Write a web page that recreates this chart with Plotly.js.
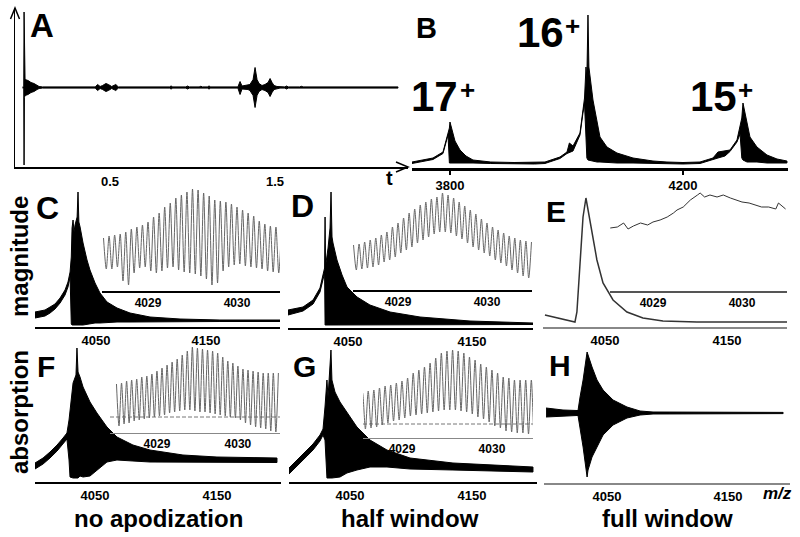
<!DOCTYPE html>
<html><head><meta charset="utf-8">
<script src="https://cdn.plot.ly/plotly-3.0.1.min.js"></script>
<style>html,body{margin:0;padding:0;background:#fff}#chart{width:800px;height:537px}</style>
</head><body><div id="chart"></div>
<script>
// ---------- Panel A: transient (time t, envelope amplitude, arb. units) ----------
const tA  = [-0.03,-0.023,-0.021,-0.019,-0.015,0.003,0.021,0.039,0.058,0.07,0.09,0.41,0.425,0.44,0.455,0.475,0.49,0.51,0.535,0.55,0.86,0.87,0.88,0.96,0.97,0.98,1.04,1.05,1.06,1.09,1.10,1.11,1.275,1.288,1.30,1.318,1.336,1.348,1.367,1.379,1.391,1.403,1.421,1.439,1.458,1.470,1.482,1.494,1.512,1.53,1.56,1.57,1.58,1.65,1.66,1.67,1.76,1.77,1.78,1.84,1.85,1.86,1.94,1.95,1.96,2.245];
const upA = [0.6,0.6,75.5,10,8,7,5,4,2,1,0.6,0.6,3,1,2,4,3,1,3,0.6,0.6,1.5,0.6,0.6,1.5,0.6,0.6,1.2,0.6,0.6,1.5,0.6,0.6,6,1.5,2,2,3,8,20,8,4,2,3,5,9,5,2,1,0.6,0.6,1.5,0.6,0.6,1.2,0.6,0.6,1.2,0.6,0.6,1,0.6,0.6,1,0.6,0.6];
const loA = [-0.6,-0.6,-77.5,-10,-8,-7,-5,-4,-2,-1,-0.6,-0.6,-3,-1,-2,-4,-3,-1,-3,-0.6,-0.6,-1.5,-0.6,-0.6,-1.5,-0.6,-0.6,-1.2,-0.6,-0.6,-1.5,-0.6,-0.6,-7,-1.5,-2,-2,-3,-8,-20,-8,-4,-2,-3,-5,-9,-5,-2,-1,-0.6,-0.6,-1.5,-0.6,-0.6,-1.2,-0.6,-0.6,-1.2,-0.6,-0.6,-1,-0.6,-0.6,-1,-0.6,-0.6];
const ticksA = [0.5, 1.5];

// ---------- Panel B: broadband spectrum (m/z, upper / lower envelope) ----------
const mzB = [3734.8,3770.8,3788.0,3796.6,3799.0,3800.0,3803.4,3808.6,3817.2,3827.5,3839.5,3870.0,3910.0,3945.0,3963.1,3988.8,4000.9,4005.0,4011.2,4023.2,4028.3,4031.0,4033.5,4035.0,4036.9,4038.5,4045.5,4052.4,4057.5,4069.5,4086.7,4114.2,4148.5,4172.5,4200.0,4229.2,4251.5,4260.1,4272.1,4280.7,4292.7,4298.0,4301.0,4303.0,4309.9,4315.0,4327.0,4344.2,4361.4,4378.5];
const upB = [6,10,16,35,40,46,38,27,18,12,8,6,5.5,5.5,6,11,16,25,22,35,58,70,101,90,153,101,68,45,31,21,15,10,7,6,5.5,6,10,16,17,18,28,41,50,65,45,31,21,13,9,7];
const loB = [4.5,8.5,14.5,33,5,5,5,5,5,5,5,4.5,4,4,4.5,9.5,14.5,15,17,33,55,64,30,10,8,8,7,6,6,6,5,5,5,4.5,4,4.5,8.5,10,12,16.5,26,34,10,8,6,6,6,5,5,5];
const ticksB = [3800, 4200];
const chargeLabels = ['17', '16', '15'];
const chargeSign = '+';

// ---------- Panels C-H: 16+ charge state, main spectra ----------
const ticksMain = [4050, 4150];
const mzC = [3994.5,4003.6,4008.2,4012.7,4017.3,4021.8,4024.5,4026.4,4027.5,4028.2,4029.1,4030.0,4030.9,4032.8,4033.6,4034.4,4035.5,4038.2,4041.8,4044.5,4049.1,4053.6,4060.0,4069.1,4080.9,4099.1,4126.4,4162.7,4217.3];
const upC = [15,17,20,23,29,37,45,55,70,99,107,95,102,110,135,105,100,84,67,57,44,34,25,19,14,10,8,7,7];
const loC = [9,11,14,18,24,32,40,50,3,2,2,2,2,2,2,2,2,2,3,3,4,4,4,5,5,5,5,5.5,5.5];

const mzD = [4001.6,4013.7,4021.8,4027.4,4029.8,4031.1,4031.5,4031.9,4033.9,4035.5,4036.3,4037.1,4037.9,4041.1,4045.2,4049.2,4057.3,4067.7,4083.9,4108.1,4148.4,4199.2];
const upD = [18,21,28,40,53,60,111,62,80,100,136,91,85,68,53,41,31,23,16,11,7,5];
const loD = [13,17,24,36,49,55,3,3,3,3,3,3,3,3,3,3,3,3,3,3,3.5,3.5];

const mzE  = [4000.8,4015.6,4025.4,4027.0,4029.5,4032.0,4034.4,4036.1,4039.3,4043.4,4048.4,4056.6,4068.0,4081.1,4097.5,4125.4,4199.2];
const intE = [12,8,5,15,67,110,129,117,94,67,44,27,15,9,6,5,5];

const mzF = [4000.8,4007.4,4013.1,4018.9,4023.8,4027.0,4028.7,4029.5,4032.0,4034.4,4035.2,4036.1,4037.7,4040.2,4045.9,4051.6,4059.8,4068.0,4081.1,4095.1,4122.1,4150.0,4199.2];
const upF = [19,24,30,37,44,49,62,72,99,107,134,110,105,95,80,69,55,45,37,32,27,25,24];
const loF = [13,18,24,31,38,43,22,5,4,4,4,4,6,5,6,12,20,22,21,20,20,19.5,19.5];

const mzG = [3999.2,4006.6,4014.8,4019.7,4025.4,4027.9,4029.5,4031.1,4032.0,4034.4,4035.2,4037.7,4041.8,4047.5,4055.7,4066.4,4080.3,4099.2,4134.4,4200.0];
const upG = [13,22,32,38,47,53,75,102,85,132,102,90,80,70,55,42,32,24,19,15];
const loG = [7,16,26,32,41,47,42,4,4,4,4,4,5,9,12,15,15,13,12,10];

const mzH = [3999.6,4013.6,4025.2,4026.0,4027.7,4030.2,4033.5,4034.3,4037.6,4041.7,4046.7,4055.0,4066.5,4077.3,4088.0,4195.5];
const upH = [75,73,72.5,72.5,86,103,131,128,116,103,93,83,76,72,71,70.6];
const loH = [66,67,67.5,67.5,53,36,6,13,26,36,48,58,65,68,69,69.4];

// ---------- Insets: isotopic fine structure (peak / valley heights) ----------
const ticksInset = [4029, 4030];
const isoStart = 4028.5, isoStep = 1/16;
const peaksC   = [53,55,56,57,59,62,64,66,69,74,78,84,88,93,96,99,102,101,98,95,91,90,89,87,84,81,78,75,70,67,65,64,63];
const troughsC = [22,22,24,10,6,18,23,24,20,18,20,23,24,21,19,18,17,15,12,6,8,20,24,26,27,25,24,23,22,20,19,18];
const peaksD   = [45,46,48,50,52,55,58,63,67,72,77,81,85,88,91,93,97,95,92,88,84,80,76,71,67,63,60,57,54,52,50,49,48];
const troughsD = [20,21,22,23,25,28,30,33,37,40,43,47,50,53,56,58,58,57,54,51,47,43,40,37,34,30,27,24,20,17,14,12];
const mzEi  = [4028.52,4028.60,4028.67,4028.72,4028.78,4028.86,4028.94,4029.00,4029.08,4029.16,4029.23,4029.27,4029.34,4029.42,4029.50,4029.53,4029.58,4029.64,4029.72,4029.79,4029.87,4029.94,4030.00,4030.08,4030.16,4030.22,4030.30,4030.38,4030.41,4030.49];
const intEi = [63,64,68,62,65,68,66,69,71,74,78,81,84,91,96,98,94,96,94,96,93,91,89,88,86,84,84,82,88,82];
const peaksF   = [49,50,52,53,54,56,57,59,62,65,68,71,74,78,82,86,85,84,83,82,80,76,72,70,67,64,63,62,61,60,60,60,60];
const troughsF = [7,9,10,12,13,14,15,16,17,18,20,21,22,23,23,22,21,21,20,19,18,17,16,15,13,10,8,6,5,4,2,1];
const peaksG   = [44,45,47,48,50,52,53,55,57,60,65,68,71,75,80,85,87,88,87,85,81,78,74,71,68,65,61,60,58,58,58,58,58];
const troughsG = [8,9,10,11,13,15,17,18,20,22,23,24,25,26,27,28,28,28,27,26,24,21,19,16,12,10,7,6,5,5,4,3];
const dashF = 16, dashG = 14;

// ================= drawing =================
const FONT = 'Liberation Sans, Arial, Helvetica, sans-serif';
const W = 800, H = 537;
const PX = v => v / W, PY = v => 1 - v / H;
const axId = n => (n === 1 ? '' : String(n));

function band(x, up, lo, n, color) {
  return { type: 'scatter', mode: 'lines',
    x: x.concat(x.slice().reverse()), y: up.concat(lo.slice().reverse()),
    fill: 'toself', fillcolor: color, line: { color: color, width: 1 },
    xaxis: 'x' + axId(n), yaxis: 'y' + axId(n), hoverinfo: 'skip', showlegend: false };
}
function line(x, y, n, color, width, extra) {
  return { type: 'scatter', mode: 'lines', x: x, y: y,
    line: Object.assign({ color: color, width: width }, extra || {}),
    xaxis: 'x' + axId(n), yaxis: 'y' + axId(n), hoverinfo: 'skip', showlegend: false };
}
function comb(peaks, troughs) {
  const x = [], y = [];
  for (let k = 0; k < peaks.length; k++) {
    x.push(isoStart + k * isoStep); y.push(peaks[k]);
    if (k < troughs.length) { x.push(isoStart + (k + 0.5) * isoStep); y.push(troughs[k]); }
  }
  return { x, y };
}
const SPL = { shape: 'spline', smoothing: 0.8 };
const DASH = { dash: '4px,2px' };

const traces = [];
traces.push(band(tA, upA, loA, 1, '#000'));
traces.push(band(mzB, upB, loB, 2, '#000'));
traces.push(band(mzC, upC, loC, 3, '#000'));
traces.push(band(mzD, upD, loD, 4, '#000'));
traces.push(line(mzE, intE, 5, '#333', 1.5));
traces.push(band(mzF, upF, loF, 6, '#000'));
traces.push(band(mzG, upG, loG, 7, '#000'));
traces.push(band(mzH, upH, loH, 8, '#000'));
let c;
c = comb(peaksC, troughsC); traces.push(line(c.x, c.y, 9, '#666', 1, SPL));
c = comb(peaksD, troughsD); traces.push(line(c.x, c.y, 10, '#666', 1, SPL));
traces.push(line(mzEi, intEi, 11, '#333', 1));
traces.push(line([4028.42, 4030.52], [dashF, dashF], 12, '#777', 1, DASH));
c = comb(peaksF, troughsF); traces.push(line(c.x, c.y, 12, '#666', 1, SPL));
traces.push(line([4028.567, 4030.456], [dashG, dashG], 13, '#777', 1, DASH));
c = comb(peaksG, troughsG); traces.push(line(c.x, c.y, 13, '#666', 1, SPL));

const layout = {
  width: W, height: H, margin: { l: 0, r: 0, t: 0, b: 0 },
  paper_bgcolor: '#fff', plot_bgcolor: 'rgba(0,0,0,0)', showlegend: false,
  font: { family: FONT, color: '#000' }, annotations: [], shapes: []
};

function addAxes(n, xl, xr, range, ybot, ytop, yrange, o) {
  layout['xaxis' + axId(n)] = {
    domain: [PX(xl), PX(xr)], range: range, anchor: 'y' + axId(n),
    showgrid: false, zeroline: false, showline: true,
    linecolor: o.lc, linewidth: o.lw, ticks: o.tl > 0 ? 'outside' : '',
    ticklen: o.tl, tickwidth: 1.5, tickcolor: o.lc,
    tickvals: o.tv, ticktext: o.tv.map(String),
    tickfont: { family: FONT, size: o.fs, color: '#000', weight: 'bold' },
    ticklabelstandoff: o.so || 0, fixedrange: true
  };
  layout['yaxis' + axId(n)] = {
    domain: [PY(ybot), PY(ytop)], range: yrange, anchor: 'x' + axId(n),
    visible: !!o.yline, showline: !!o.yline, linecolor: '#000', linewidth: 1.5,
    showgrid: false, zeroline: false, showticklabels: false, ticks: '', fixedrange: true
  };
}
addAxes(1, 15, 408, [-0.076, 2.306], 167, 8, [-79.5, 79.5], { lc: '#000', lw: 1.5, tl: 0, tv: ticksA, fs: 13, yline: true, so: 2 });
addAxes(2, 412, 788, [3734.8, 4380.3], 168, 10, [0, 158], { lc: '#000', lw: 2.5, tl: 4, tv: ticksB, fs: 13 });
addAxes(3, 35, 280, [3994.5, 4217.3], 327, 185, [0, 142], { lc: '#000', lw: 2, tl: 0, tv: ticksMain, fs: 13 });
addAxes(4, 288, 533, [4001.6, 4199.2], 328, 186, [0, 142], { lc: '#000', lw: 2, tl: 0, tv: ticksMain, fs: 13 });
addAxes(5, 543, 787, [3999.2, 4199.2], 327, 185, [0, 142], { lc: '#888', lw: 2, tl: 0, tv: ticksMain, fs: 13 });
addAxes(6, 35, 281, [4000.8, 4202.5], 482, 340, [0, 142], { lc: '#000', lw: 2, tl: 0, tv: ticksMain, fs: 13 });
addAxes(7, 289, 537, [4000.0, 4203.3], 482, 340, [0, 142], { lc: '#000', lw: 2, tl: 0, tv: ticksMain, fs: 13 });
addAxes(8, 544, 790, [3997.9, 4201.2], 483, 341, [0, 142], { lc: '#888', lw: 2, tl: 0, tv: ticksMain, fs: 13 });
addAxes(9, 102, 280, [4028.483, 4030.483], 291, 185, [0, 106], { lc: '#000', lw: 1.5, tl: 0, tv: ticksInset, fs: 12 });
addAxes(10, 353, 532, [4028.494, 4030.506], 290, 185, [0, 105], { lc: '#000', lw: 1.5, tl: 0, tv: ticksInset, fs: 12 });
addAxes(11, 610, 787, [4028.517, 4030.506], 291, 185, [0, 106], { lc: '#555', lw: 1.5, tl: 0, tv: ticksInset, fs: 12 });
addAxes(12, 110, 280, [4028.42, 4030.52], 433, 340, [0, 93], { lc: '#888', lw: 1, tl: 0, tv: ticksInset, fs: 12 });
addAxes(13, 363, 533, [4028.567, 4030.456], 438, 340, [0, 98], { lc: '#888', lw: 1, tl: 0, tv: ticksInset, fs: 12 });

// arrow heads of panel A axes
layout.shapes.push({ type: 'path', xref: 'paper', yref: 'paper', line: { color: '#000', width: 1.5 },
  path: `M ${PX(10.5)},${PY(19)} L ${PX(15)},${PY(8)} L ${PX(19.5)},${PY(19)}` });
layout.shapes.push({ type: 'path', xref: 'paper', yref: 'paper', line: { color: '#000', width: 1.5 },
  path: `M ${PX(396)},${PY(162)} L ${PX(408)},${PY(167)} L ${PX(396)},${PY(172)}` });

function ann(text, x, y, size, extra) {
  layout.annotations.push(Object.assign({ text: text, xref: 'paper', yref: 'paper',
    x: PX(x), y: PY(y), xanchor: 'center', yanchor: 'middle', showarrow: false,
    font: { family: FONT, size: size, color: '#000', weight: 'bold' } }, extra || {}));
}
ann('A', 42, 26, 33);
ann('B', 426, 28, 29);
ann('C', 47, 208, 32);
ann('D', 302, 206, 32);
ann('E', 556, 211, 30);
ann('F', 46, 366, 30);
ann('G', 304, 366, 30);
ann('H', 560, 365, 30);
// charge states: number + raised sign
ann(chargeLabels[0], 434, 97, 42);
ann(chargeSign, 467, 90, 26);
ann(chargeLabels[1], 540, 32, 42);
ann(chargeSign, 572, 26, 26);
ann(chargeLabels[2], 713, 97, 42);
ann(chargeSign, 745, 90, 26);
ann('t', 389, 178, 20);
ann('m/z', 777, 493, 17, { font: { family: FONT, size: 17, color: '#000', weight: 'bold', style: 'italic' } });
ann('magnitude', 19, 257, 24, { textangle: -90 });
ann('absorption', 19, 412, 24, { textangle: -90 });
ann('no apodization', 158, 518, 24);
ann('half window', 410, 518, 24);
ann('full window', 667, 518, 24);

Plotly.newPlot('chart', traces, layout, { staticPlot: true, displayModeBar: false });
</script></body></html>
